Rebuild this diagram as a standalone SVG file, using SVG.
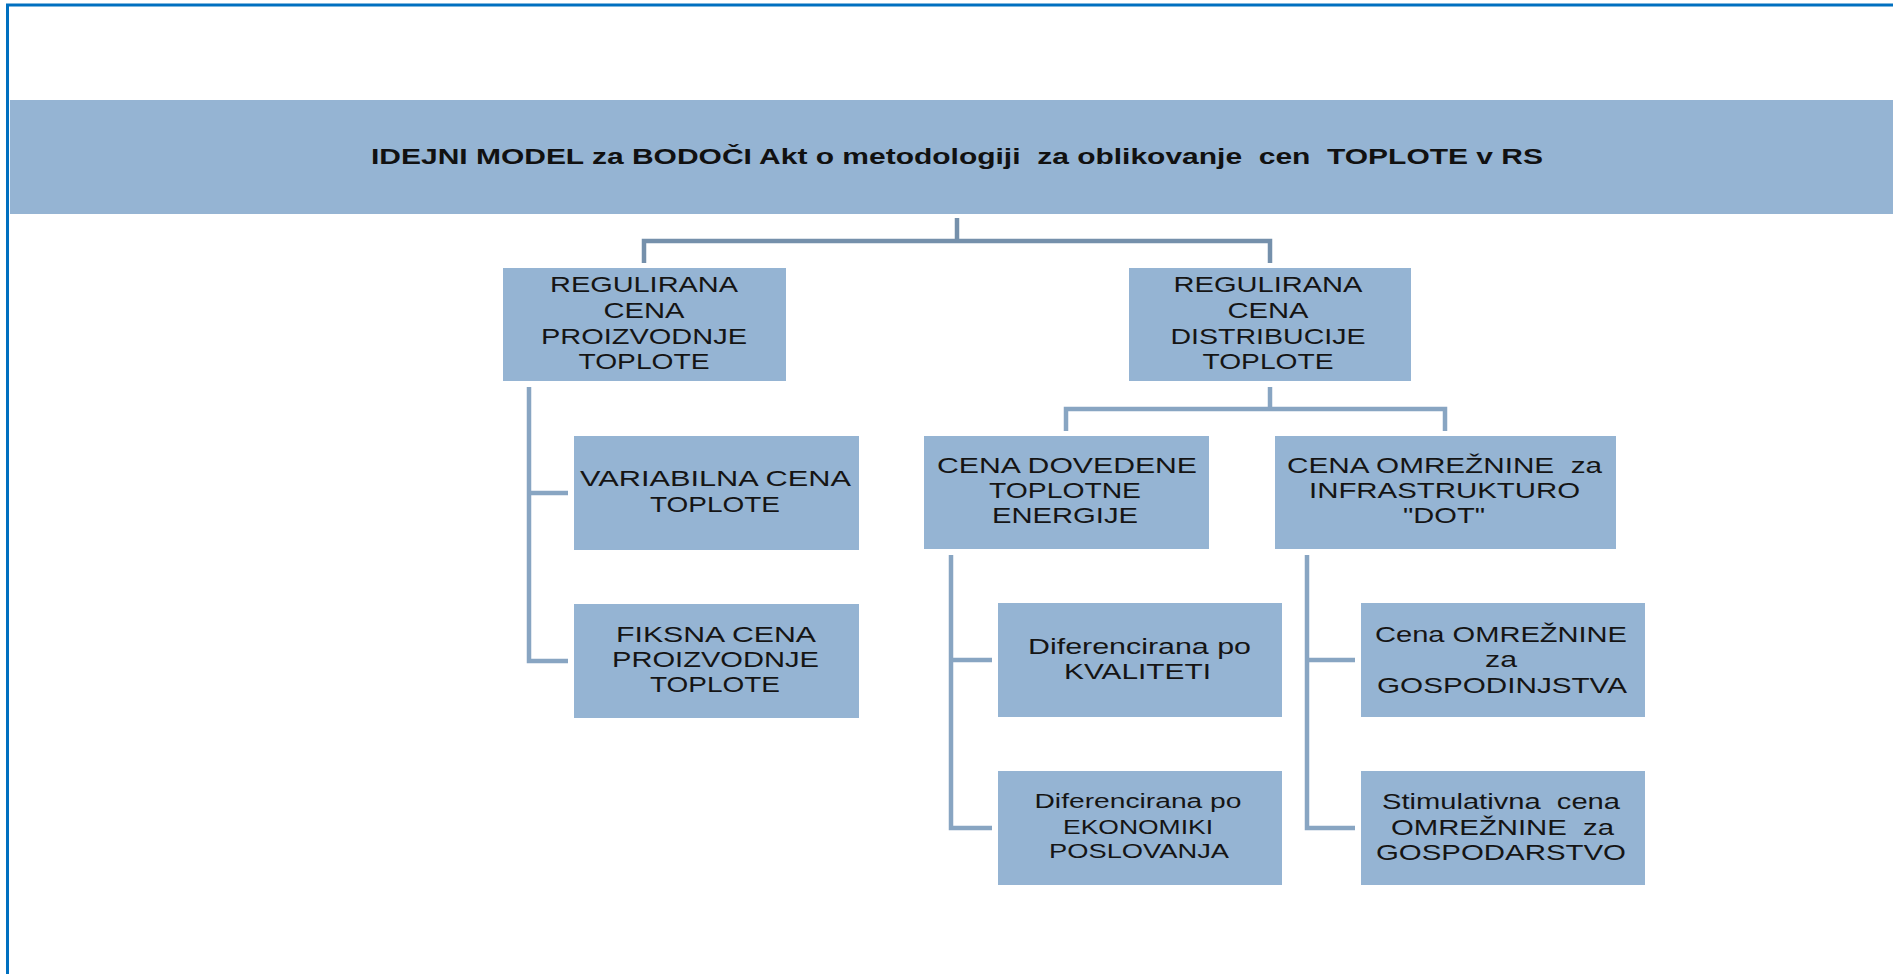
<svg xmlns="http://www.w3.org/2000/svg" width="1893" height="974" viewBox="0 0 1893 974">
<style>
.box{fill:#95b4d3;}
.t{font-family:"Liberation Sans",Arial,sans-serif;font-size:22px;fill:#151515;text-anchor:middle;white-space:pre;}
.ts{font-family:"Liberation Sans",Arial,sans-serif;font-size:20px;fill:#151515;text-anchor:middle;white-space:pre;}
.title{font-family:"Liberation Sans",Arial,sans-serif;font-size:22px;font-weight:bold;fill:#111;text-anchor:middle;white-space:pre;}
.c{fill:none;stroke:#88a5c2;stroke-width:4.5;}
.c0{fill:none;stroke:#7590ab;stroke-width:4.5;}
</style>
<rect x="0" y="0" width="1893" height="974" fill="#ffffff"/>
<g id="frame">
<line x1="6" y1="5" x2="1893" y2="5" stroke="#0070c0" stroke-width="3"/>
<line x1="7.5" y1="4" x2="7.5" y2="974" stroke="#0070c0" stroke-width="3"/>
</g>
<g id="connectors">
<polyline class="c0" points="957,218 957,241"/>
<polyline class="c0" points="644,263 644,241 1270,241 1270,263"/>
<polyline class="c" points="529,387 529,661 568,661"/>
<polyline class="c" points="529,493 568,493"/>
<polyline class="c" points="1270,387 1270,409"/>
<polyline class="c" points="1066,431 1066,409 1445,409 1445,431"/>
<polyline class="c" points="951,555 951,828 992,828"/>
<polyline class="c" points="951,660 992,660"/>
<polyline class="c" points="1307,555 1307,828 1355,828"/>
<polyline class="c" points="1307,660 1355,660"/>
</g>
<g id="title">
<rect class="box" x="10" y="100" width="1883" height="114"/>
<text class="title" xml:space="preserve" x="957" y="164" textLength="1172" lengthAdjust="spacingAndGlyphs">IDEJNI MODEL za BODOČI Akt o metodologiji  za oblikovanje  cen  TOPLOTE v RS</text>
</g>
<g id="n-proizvodnja">
<rect class="box" x="503" y="268" width="283" height="113"/>
<text class="t" x="644" y="292" textLength="188" lengthAdjust="spacingAndGlyphs">REGULIRANA</text>
<text class="t" x="644" y="318" textLength="81" lengthAdjust="spacingAndGlyphs">CENA</text>
<text class="t" x="644" y="344" textLength="206" lengthAdjust="spacingAndGlyphs">PROIZVODNJE</text>
<text class="t" x="644" y="369" textLength="131" lengthAdjust="spacingAndGlyphs">TOPLOTE</text>
</g>
<g id="n-distribucija">
<rect class="box" x="1129" y="268" width="282" height="113"/>
<text class="t" x="1268" y="292" textLength="189" lengthAdjust="spacingAndGlyphs">REGULIRANA</text>
<text class="t" x="1268" y="318" textLength="81" lengthAdjust="spacingAndGlyphs">CENA</text>
<text class="t" x="1268" y="344" textLength="195" lengthAdjust="spacingAndGlyphs">DISTRIBUCIJE</text>
<text class="t" x="1268" y="369" textLength="131" lengthAdjust="spacingAndGlyphs">TOPLOTE</text>
</g>
<g id="n-variabilna">
<rect class="box" x="574" y="436" width="285" height="114"/>
<text class="t" x="715.5" y="486" textLength="271" lengthAdjust="spacingAndGlyphs">VARIABILNA CENA</text>
<text class="t" x="715" y="512" textLength="130" lengthAdjust="spacingAndGlyphs">TOPLOTE</text>
</g>
<g id="n-fiksna">
<rect class="box" x="574" y="604" width="285" height="114"/>
<text class="t" x="716" y="642" textLength="200" lengthAdjust="spacingAndGlyphs">FIKSNA CENA</text>
<text class="t" x="715.5" y="667" textLength="207" lengthAdjust="spacingAndGlyphs">PROIZVODNJE</text>
<text class="t" x="715" y="692" textLength="130" lengthAdjust="spacingAndGlyphs">TOPLOTE</text>
</g>
<g id="n-dovedene">
<rect class="box" x="924" y="436" width="285" height="113"/>
<text class="t" x="1067" y="473" textLength="260" lengthAdjust="spacingAndGlyphs">CENA DOVEDENE</text>
<text class="t" x="1065" y="498" textLength="152" lengthAdjust="spacingAndGlyphs">TOPLOTNE</text>
<text class="t" x="1065" y="523" textLength="146" lengthAdjust="spacingAndGlyphs">ENERGIJE</text>
</g>
<g id="n-omreznine">
<rect class="box" x="1275" y="436" width="341" height="113"/>
<text class="t" xml:space="preserve" x="1444.5" y="473" textLength="315" lengthAdjust="spacingAndGlyphs">CENA OMREŽNINE  za</text>
<text class="t" x="1444.5" y="498" textLength="271" lengthAdjust="spacingAndGlyphs">INFRASTRUKTURO</text>
<text class="t" x="1444" y="523" textLength="82" lengthAdjust="spacingAndGlyphs">"DOT"</text>
</g>
<g id="n-kvaliteta">
<rect class="box" x="998" y="603" width="284" height="114"/>
<text class="t" x="1139.5" y="654" textLength="223" lengthAdjust="spacingAndGlyphs">Diferencirana po</text>
<text class="t" x="1137.5" y="679" textLength="147" lengthAdjust="spacingAndGlyphs">KVALITETI</text>
</g>
<g id="n-ekonomika">
<rect class="box" x="998" y="771" width="284" height="114"/>
<text class="ts" x="1138" y="808" textLength="207" lengthAdjust="spacingAndGlyphs">Diferencirana po</text>
<text class="ts" x="1138" y="834" textLength="150" lengthAdjust="spacingAndGlyphs">EKONOMIKI</text>
<text class="ts" x="1139" y="858" textLength="180" lengthAdjust="spacingAndGlyphs">POSLOVANJA</text>
</g>
<g id="n-gospodinjstva">
<rect class="box" x="1361" y="603" width="284" height="114"/>
<text class="t" x="1501" y="642" textLength="252" lengthAdjust="spacingAndGlyphs">Cena OMREŽNINE</text>
<text class="t" x="1501" y="667" textLength="32" lengthAdjust="spacingAndGlyphs">za</text>
<text class="t" x="1502" y="693" textLength="250" lengthAdjust="spacingAndGlyphs">GOSPODINJSTVA</text>
</g>
<g id="n-gospodarstvo">
<rect class="box" x="1361" y="771" width="284" height="114"/>
<text class="t" xml:space="preserve" x="1501" y="809" textLength="238" lengthAdjust="spacingAndGlyphs">Stimulativna  cena</text>
<text class="t" xml:space="preserve" x="1502.5" y="835" textLength="223" lengthAdjust="spacingAndGlyphs">OMREŽNINE  za</text>
<text class="t" x="1501" y="860" textLength="250" lengthAdjust="spacingAndGlyphs">GOSPODARSTVO</text>
</g>
</svg>
